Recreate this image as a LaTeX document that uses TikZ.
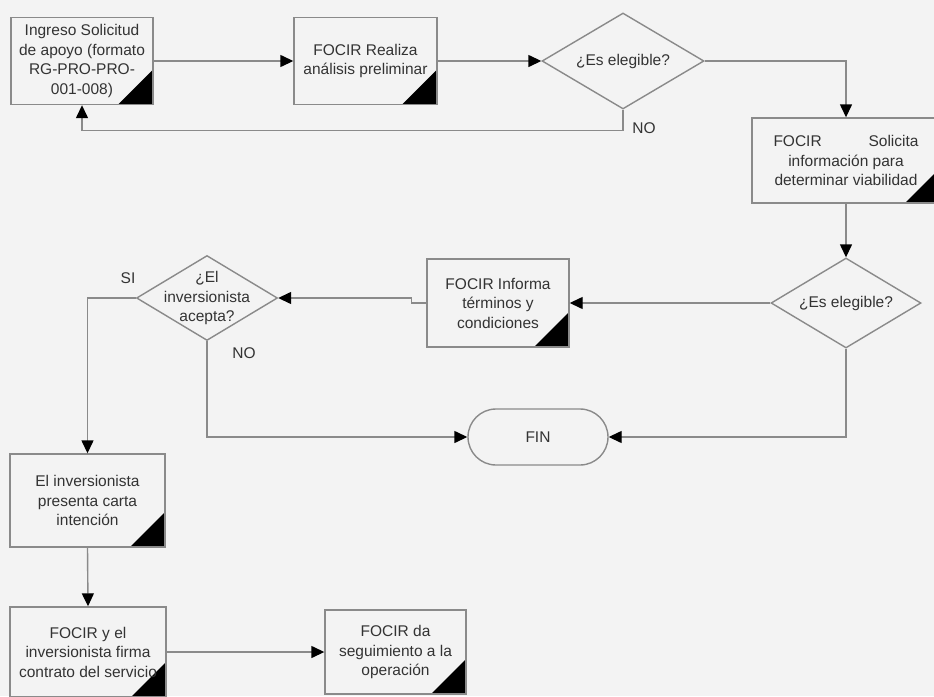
\documentclass[tikz,border=0pt]{standalone}
\usepackage{fontspec}
\setmainfont{Liberation Sans}
\usetikzlibrary{shapes.geometric,arrows.meta}
\definecolor{bgc}{HTML}{F3F3F3}
\definecolor{linec}{HTML}{8A8A8A}
\definecolor{txtc}{HTML}{333333}
\tikzset{
  base/.style={draw=linec, line width=1.4pt, fill=bgc, text=txtc, inner sep=2pt, align=center,
    font=\fontsize{15.5}{19.5}\selectfont},
  procbox/.style={base, rectangle, minimum width=#1, minimum height=87pt,
    path picture={\fill[black] (path picture bounding box.south east) -- ++(-35pt,0pt) -- ++(35pt,35pt) -- cycle;}},
  decision/.style={base, diamond, inner sep=0pt},
  term/.style={base, rectangle, rounded corners=28pt, minimum width=140pt, minimum height=56pt},
  conn/.style={draw=linec, line width=1.4pt, -{Triangle[length=13pt,width=12pt,black]}},
  lbl/.style={text=txtc, font=\fontsize{15.5}{19.5}\selectfont, inner sep=0pt, align=center}
}
\begin{document}
\begin{tikzpicture}[x=1pt,y=-1pt]
\fill[bgc] (0,0) rectangle (934,696);
\useasboundingbox (0,0) rectangle (934,696);
\clip (0,0) rectangle (934,696);

\node[procbox=142pt, minimum height=87pt] (b1) at (82,61) {Ingreso Solicitud\\de apoyo (formato\\RG-PRO-PRO-\\001-008)};
\node[procbox=143pt, minimum height=87pt] (b2) at (365.5,61) {FOCIR Realiza\\análisis preliminar};
\node[decision, minimum width=162pt, minimum height=96pt, label={[lbl]center:¿Es elegible?}] (d1) at (623,61) {};
\node[procbox=188pt, minimum height=85pt] (b3) at (846,160.5) {\makebox[145pt]{FOCIR\hfill Solicita}\\información para\\determinar viabilidad};
\node[decision, minimum width=150pt, minimum height=90pt, label={[lbl]center:¿Es elegible?}] (d2) at (846,303) {};
\node[procbox=142pt, minimum height=88pt] (b4) at (498,303) {FOCIR Informa\\términos y\\condiciones};
\node[decision, minimum width=141pt, minimum height=85pt, label={[lbl]center:¿El\\inversionista\\acepta?}] (d3) at (207,298) {};
\node[term] (fin) at (538,437) {FIN};
\node[procbox=155pt, minimum height=93pt] (b5) at (87.5,500.5) {El inversionista\\presenta carta\\intención};
\node[procbox=156pt, minimum height=90pt] (b6) at (88,652) {FOCIR y el\\inversionista firma\\contrato del servicio};
\node[procbox=141pt, minimum height=84pt] (b7) at (395.5,652) {FOCIR da\\seguimiento a la\\operación};

\node[lbl] (no1) at (644,128) {NO};
\node[lbl] (si) at (128,278) {SI};
\node[lbl] (no2) at (244,353) {NO};

\draw[conn] (b1.east) -- (b2.west);
\draw[conn] (b2.east) -- (d1.west);
\draw[conn] (d1.south) -- ++(0,21) -| (b1.south);
\draw[conn] (d1.east) -| (b3.north);
\draw[conn] (b3.south) -- (d2.north);
\draw[conn] (d2.west) -- (b4.east);
\draw[conn] (b4.west) -- ++(-15,0) -- ++(0,-5) -- (d3.east);
\draw[conn] (d3.west) -| (b5.north);
\draw[conn] (d3.south) |- (fin.west);
\draw[conn] (d2.south) |- (fin.east);
\draw[conn] (b5.south) -- (b6.north);
\draw[conn] (b6.east) -- (b7.west);
\end{tikzpicture}
\end{document}
